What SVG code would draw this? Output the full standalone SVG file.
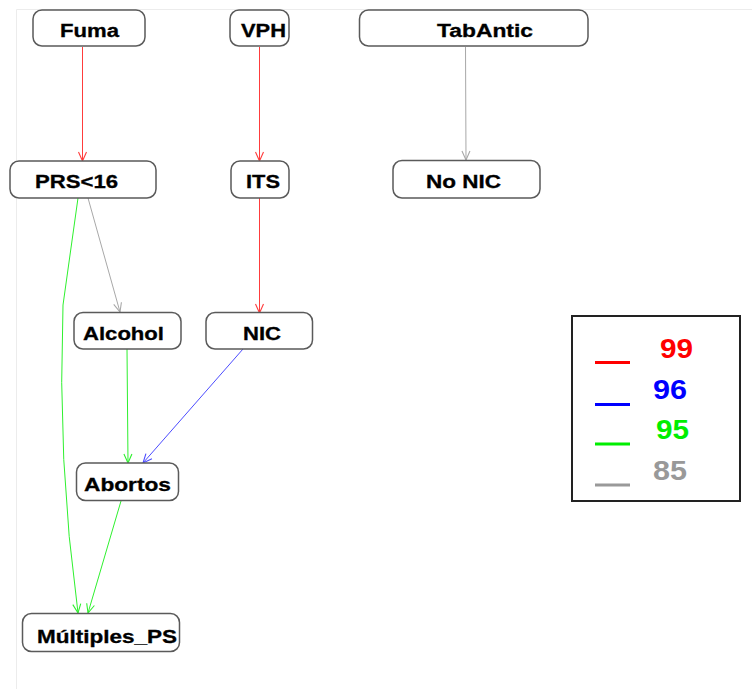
<svg xmlns="http://www.w3.org/2000/svg" width="752" height="689" viewBox="0 0 752 689">
  <style>
    .node rect { fill: #ffffff; stroke: #5a5a5a; stroke-width: 1.5; }
    .node text { font-family: "Liberation Sans", Arial, sans-serif; font-weight: bold; font-size: 18px; fill: #000000; stroke: #000000; stroke-width: 0.3; }
    .edge { fill: none; stroke-width: 1; }
    .red { stroke: #ff3c3c; }
    .blue { stroke: #4c4cff; }
    .green { stroke: #2ef02e; }
    .gray { stroke: #a8a8a8; }
    .legend-num { font-family: "Liberation Sans", Arial, sans-serif; font-weight: bold; font-size: 27px; }
  </style>
  <defs>
    <marker id="arrow-red" viewBox="-10 -5 11 10" markerWidth="11" markerHeight="10" refX="0" refY="0" orient="auto" markerUnits="userSpaceOnUse">
      <path d="M-9,-4 L0,0 L-9,4" fill="none" stroke="#ff3c3c" stroke-width="1.1"/>
    </marker>
    <marker id="arrow-blue" viewBox="-10 -5 11 10" markerWidth="11" markerHeight="10" refX="0" refY="0" orient="auto" markerUnits="userSpaceOnUse">
      <path d="M-9,-4 L0,0 L-9,4" fill="none" stroke="#4c4cff" stroke-width="1.1"/>
    </marker>
    <marker id="arrow-green" viewBox="-10 -5 11 10" markerWidth="11" markerHeight="10" refX="0" refY="0" orient="auto" markerUnits="userSpaceOnUse">
      <path d="M-9,-4 L0,0 L-9,4" fill="none" stroke="#2ef02e" stroke-width="1.1"/>
    </marker>
    <marker id="arrow-gray" viewBox="-10 -5 11 10" markerWidth="11" markerHeight="10" refX="0" refY="0" orient="auto" markerUnits="userSpaceOnUse">
      <path d="M-9,-4 L0,0 L-9,4" fill="none" stroke="#a8a8a8" stroke-width="1.1"/>
    </marker>
  </defs>

  <rect x="0" y="0" width="752" height="689" fill="#ffffff"/>
  <!-- faint canvas frame -->
  <path d="M16.5,689 L16.5,9.5 L752,9.5" fill="none" stroke="#ececec" stroke-width="1"/>

  <g id="connectors">
    <path class="edge red" d="M82.5,47 L82.5,161" marker-end="url(#arrow-red)"/>
    <path class="edge red" d="M259.5,47 L259.5,161" marker-end="url(#arrow-red)"/>
    <path class="edge red" d="M259.5,198 L259.5,313" marker-end="url(#arrow-red)"/>
    <path class="edge gray" d="M465.5,47 L466,160" marker-end="url(#arrow-gray)"/>
    <path class="edge gray" d="M88,198 L120,312" marker-end="url(#arrow-gray)"/>
    <path class="edge green" d="M78,198 L63,305 Q57,460 78,613" marker-end="url(#arrow-green)"/>
    <path class="edge green" d="M127,349 L128,463" marker-end="url(#arrow-green)"/>
    <path class="edge blue" d="M243,349 L143,463" marker-end="url(#arrow-blue)"/>
    <path class="edge green" d="M121,501 L88,613" marker-end="url(#arrow-green)"/>
  </g>

  <g id="node-fuma" class="node">
    <rect x="33" y="10" width="112" height="36" rx="9"/>
    <text x="60" y="36.5" textLength="59" lengthAdjust="spacingAndGlyphs">Fuma</text>
  </g>
  <g id="node-vph" class="node">
    <rect x="230" y="10" width="59" height="36" rx="9"/>
    <text x="241" y="36.5" textLength="45" lengthAdjust="spacingAndGlyphs">VPH</text>
  </g>
  <g id="node-tabantic" class="node">
    <rect x="359.5" y="10" width="228.5" height="36" rx="9"/>
    <text x="437" y="36.5" textLength="96" lengthAdjust="spacingAndGlyphs">TabAntic</text>
  </g>
  <g id="node-prs16" class="node">
    <rect x="10" y="161" width="146" height="37" rx="9"/>
    <text x="35" y="188" textLength="83" lengthAdjust="spacingAndGlyphs">PRS&lt;16</text>
  </g>
  <g id="node-its" class="node">
    <rect x="231" y="161" width="58" height="37" rx="9"/>
    <text x="246" y="188" textLength="34" lengthAdjust="spacingAndGlyphs">ITS</text>
  </g>
  <g id="node-nonic" class="node">
    <rect x="393" y="160.5" width="147" height="37.5" rx="9"/>
    <text x="426" y="188" textLength="75" lengthAdjust="spacingAndGlyphs">No NIC</text>
  </g>
  <g id="node-alcohol" class="node">
    <rect x="74" y="312.5" width="107" height="36.5" rx="9"/>
    <text x="83" y="340" textLength="81" lengthAdjust="spacingAndGlyphs">Alcohol</text>
  </g>
  <g id="node-nic" class="node">
    <rect x="206" y="312.5" width="106.5" height="36.5" rx="9"/>
    <text x="243" y="340" textLength="38" lengthAdjust="spacingAndGlyphs">NIC</text>
  </g>
  <g id="node-abortos" class="node">
    <rect x="76.5" y="463" width="102" height="37.5" rx="9"/>
    <text x="84" y="490.5" textLength="87" lengthAdjust="spacingAndGlyphs">Abortos</text>
  </g>
  <g id="node-multiples" class="node">
    <rect x="22.5" y="613.5" width="157" height="38" rx="9"/>
    <text x="37" y="643" textLength="140" lengthAdjust="spacingAndGlyphs">Múltiples_PS</text>
  </g>

  <g id="legend">
    <rect x="572" y="316" width="168" height="185" fill="#ffffff" stroke="#222222" stroke-width="2"/>
    <line x1="595" y1="362.5" x2="630" y2="362.5" stroke="#ff0000" stroke-width="3"/>
    <line x1="595" y1="404.5" x2="630" y2="404.5" stroke="#0000ff" stroke-width="3"/>
    <line x1="595" y1="444" x2="630" y2="444" stroke="#00ee00" stroke-width="3"/>
    <line x1="595" y1="485" x2="630" y2="485" stroke="#999999" stroke-width="3"/>
    <text class="legend-num" x="660" y="358" fill="#ff0000" textLength="33" lengthAdjust="spacingAndGlyphs">99</text>
    <text class="legend-num" x="653" y="399" fill="#0000ff" textLength="34" lengthAdjust="spacingAndGlyphs">96</text>
    <text class="legend-num" x="656" y="439" fill="#00ee00" textLength="33" lengthAdjust="spacingAndGlyphs">95</text>
    <text class="legend-num" x="653" y="480" fill="#999999" textLength="34" lengthAdjust="spacingAndGlyphs">85</text>
  </g>
</svg>
